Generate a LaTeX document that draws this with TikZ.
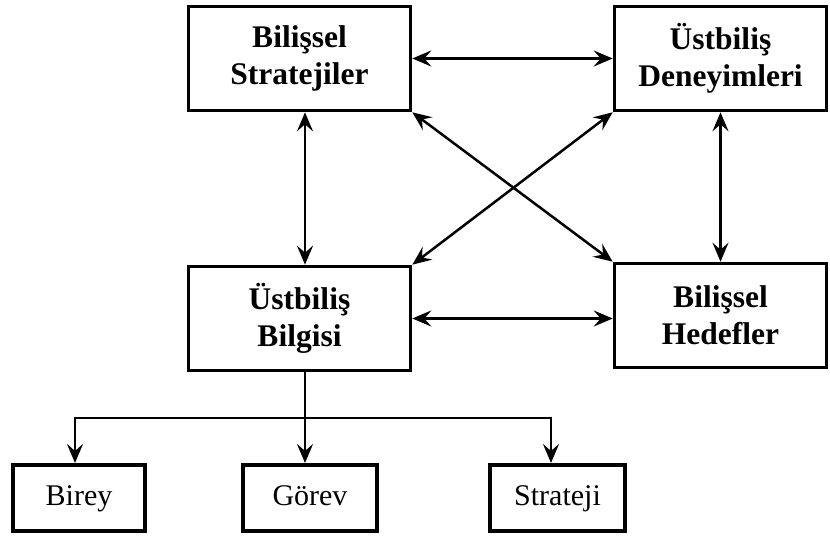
\documentclass[tikz,border=0pt]{standalone}
\usepackage{fontspec}
\setmainfont{Liberation Serif}
\usetikzlibrary{arrows.meta}
\begin{document}
\begin{tikzpicture}[x=1pt,y=-1pt,
  bigbox/.style={draw, line width=3.6pt, align=center, inner sep=0pt,
    font=\fontsize{31.5}{37}\selectfont\bfseries},
  smallbox/.style={draw, line width=4pt, inner sep=0pt,
    minimum width=132pt, minimum height=66pt,
    text height=21pt, text depth=7pt,
    font=\fontsize{30}{36}\selectfont},
  arr/.style={line width=2.5pt, -{Stealth[length=19pt,width=16pt,inset=7pt]}},
  darr/.style={line width=2.5pt, {Stealth[length=19pt,width=16pt,inset=7pt]}-{Stealth[length=19pt,width=16pt,inset=7pt]}},
  tline/.style={line width=2.5pt}
]
\useasboundingbox (0,0) rectangle (830,537);

\node[bigbox, minimum width=222pt, minimum height=104pt] (strat) at (299.5,58.5) {Bilişsel\\Stratejiler};
\node[bigbox, minimum width=212pt, minimum height=104pt] (deney) at (720.5,58.5) {Üstbiliş\\Deneyimleri};
\node[bigbox, minimum width=222pt, minimum height=104pt] (bilgi) at (299.5,318.5) {Üstbiliş\\Bilgisi};
\node[bigbox, minimum width=212pt, minimum height=104pt] (hedef) at (720.5,315.5) {Bilişsel\\Hedefler};

\node[smallbox] (birey) at (79,498) {Birey};
\node[smallbox, minimum width=134pt] (gorev) at (310,498) {Görev};
\node[smallbox, minimum width=135pt] (strj) at (557.5,498) {Strateji};

% horizontal
\draw[darr] (strat.east) -- (deney.west);
\draw[darr] (bilgi.east) -- (bilgi.east -| hedef.west);
% vertical
\draw[darr] ([xshift=5.5pt]strat.south) -- ([xshift=5.5pt]bilgi.north);
\draw[darr] (deney.south) -- (hedef.north);
% diagonals
\draw[darr] (strat.south east) -- (hedef.north west);
\draw[darr] (bilgi.north east) -- (deney.south west);

% tree
\coordinate (j) at (305,418);
\draw[tline] ([xshift=5.5pt]bilgi.south) -- (j);
\draw[arr] (j) -- ([xshift=-5pt]gorev.north);
\draw[arr] (j) -| ([xshift=-4pt]birey.north);
\draw[arr] (j) -| ([xshift=-6.5pt]strj.north);
\end{tikzpicture}
\end{document}
